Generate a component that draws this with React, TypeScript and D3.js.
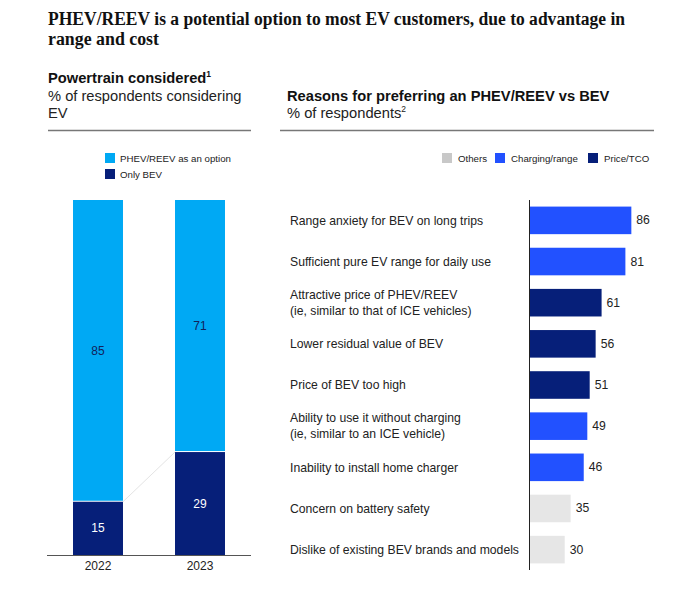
import React from "react";
import * as d3 from "d3";

const years = ["2022", "2023"];
const phevOption = [85, 71];
const onlyBev = [15, 29];

const reasons = [
  ["Range anxiety for BEV on long trips"],
  ["Sufficient pure EV range for daily use"],
  ["Attractive price of PHEV/REEV", "(ie, similar to that of  ICE vehicles)"],
  ["Lower residual value of BEV"],
  ["Price of BEV too high"],
  ["Ability to use it without charging", "(ie, similar to an ICE vehicle)"],
  ["Inability to install home charger"],
  ["Concern on battery safety"],
  ["Dislike of existing BEV brands and models"],
];
const reasonValues = [86, 81, 61, 56, 51, 49, 46, 35, 30];
const reasonGroups = ["Charging/range", "Charging/range", "Price/TCO", "Price/TCO", "Price/TCO", "Charging/range", "Charging/range", "Others", "Others"];
const groupNames = ["Others", "Charging/range", "Price/TCO"];

const C_LIGHT = "#00a9f4";
const C_NAVY = "#061f79";
const C_BLUE = "#2251ff";
const groupColor: Record<string, string> = { Others: "#e6e6e6", "Charging/range": C_BLUE, "Price/TCO": C_NAVY };
const legendColor: Record<string, string> = { Others: "#c8c8c8", "Charging/range": C_BLUE, "Price/TCO": C_NAVY };

const SANS = "Liberation Sans, Arial, sans-serif";
const SERIF = "Liberation Serif, Times New Roman, serif";

export default function App() {
  const W = 682, H = 592;
  // left chart
  const xL = d3.scaleBand<string>().domain(years).range([47, 251]).paddingInner(0.51).paddingOuter(0.255);
  const yL = d3.scaleLinear().domain([0, 100]).range([555, 200]);
  // right chart
  const xR = d3.scaleLinear().domain([0, 100]).range([529, 648]);
  const yR = d3.scaleBand<number>().domain(d3.range(reasons.length)).range([200, 570]).paddingInner(0.33).paddingOuter(0.16);

  const bw = xL.bandwidth();
  return (
    <div style={{ margin: -8 }}>
      <svg width={W} height={H} style={{ display: "block", background: "#fff" }}>
        <text x={48} y={4} fontFamily={SANS} fontSize={10} fill="#555">Exhibit 1</text>
        <text x={48} y={25} fontFamily={SERIF} fontSize={18.5} fontWeight="bold" fill="#111" textLength={577} lengthAdjust="spacingAndGlyphs">PHEV/REEV is a potential option to most EV customers, due to advantage in</text>
        <text x={48} y={45} fontFamily={SERIF} fontSize={18.5} fontWeight="bold" fill="#111" textLength={111} lengthAdjust="spacingAndGlyphs">range and cost</text>

        <text x={48} y={83} fontFamily={SANS} fontSize={14.7} fontWeight="bold" fill="#111">Powertrain considered<tspan fontSize={8.5} dy={-6}>1</tspan></text>
        <text x={48} y={101} fontFamily={SANS} fontSize={14.7} fill="#222">% of respondents considering</text>
        <text x={48} y={118} fontFamily={SANS} fontSize={14.7} fill="#222">EV</text>

        <text x={287} y={101} fontFamily={SANS} fontSize={14.7} fontWeight="bold" fill="#111">Reasons for preferring an PHEV/REEV vs BEV</text>
        <text x={287} y={118} fontFamily={SANS} fontSize={14.7} fill="#222">% of respondents<tspan fontSize={8.5} dy={-6}>2</tspan></text>

        <line x1={48} x2={251} y1={130.5} y2={130.5} stroke="#777" strokeWidth={1.5} />
        <line x1={280} x2={654} y1={130.5} y2={130.5} stroke="#777" strokeWidth={1.5} />

        {/* left legend */}
        <rect x={105} y={153} width={10} height={10} fill={C_LIGHT} />
        <text x={120} y={161.5} fontFamily={SANS} fontSize={9.7} fill="#222">PHEV/REEV as an option</text>
        <rect x={105} y={169} width={10} height={10} fill={C_NAVY} />
        <text x={120} y={177.5} fontFamily={SANS} fontSize={9.7} fill="#222">Only BEV</text>

        {/* connector */}
        <line x1={(xL(years[0]) as number) + bw} y1={yL(onlyBev[0])} x2={xL(years[1]) as number} y2={yL(onlyBev[1])} stroke="#e4e4e4" strokeWidth={1} />

        {years.map((yr, i) => {
          const x = xL(yr) as number;
          const yb = yL(onlyBev[i]);
          const yt = yL(onlyBev[i] + phevOption[i]);
          return (
            <g key={yr}>
              <rect x={x} y={yb} width={bw} height={yL(0) - yb} fill={C_NAVY} />
              <rect x={x} y={yt} width={bw} height={yb - yt - 1} fill={C_LIGHT} />
              <text x={x + bw / 2} y={(yt + yb) / 2 + 4} textAnchor="middle" fontFamily={SANS} fontSize={12} fill="#12225a">{phevOption[i]}</text>
              <text x={x + bw / 2} y={(yb + yL(0)) / 2 + 4} textAnchor="middle" fontFamily={SANS} fontSize={12} fill="#fff">{onlyBev[i]}</text>
              <text x={x + bw / 2} y={570} textAnchor="middle" fontFamily={SANS} fontSize={12} fill="#222">{yr}</text>
            </g>
          );
        })}
        <line x1={47} x2={251} y1={555.5} y2={555.5} stroke="#555" strokeWidth={1} />

        {/* right legend */}
        {(() => {
          const xs = [442, 495, 588];
          return groupNames.map((g, i) => (
            <g key={g}>
              <rect x={xs[i]} y={153} width={10} height={10} fill={legendColor[g]} />
              <text x={xs[i] + 16} y={161.5} fontFamily={SANS} fontSize={9.7} fill="#222">{g}</text>
            </g>
          ));
        })()}

        {reasons.map((lines, i) => {
          const y = yR(i) as number;
          const h = yR.bandwidth();
          const cy = y + h / 2;
          return (
            <g key={i}>
              <rect x={xR(0)} y={y} width={xR(reasonValues[i]) - xR(0)} height={h} fill={groupColor[reasonGroups[i]]} />
              <text x={xR(reasonValues[i]) + 5} y={cy + 4} fontFamily={SANS} fontSize={12.2} fill="#222">{reasonValues[i]}</text>
              {lines.map((l, j) => (
                <text key={j} x={290} y={cy + 4.3 + (j - (lines.length - 1) / 2) * 16} fontFamily={SANS} fontSize={12.2} fill="#222">{l}</text>
              ))}
            </g>
          );
        })}
        <line x1={529.5} x2={529.5} y1={200} y2={570} stroke="#222" strokeWidth={1} />
      </svg>
    </div>
  );
}
